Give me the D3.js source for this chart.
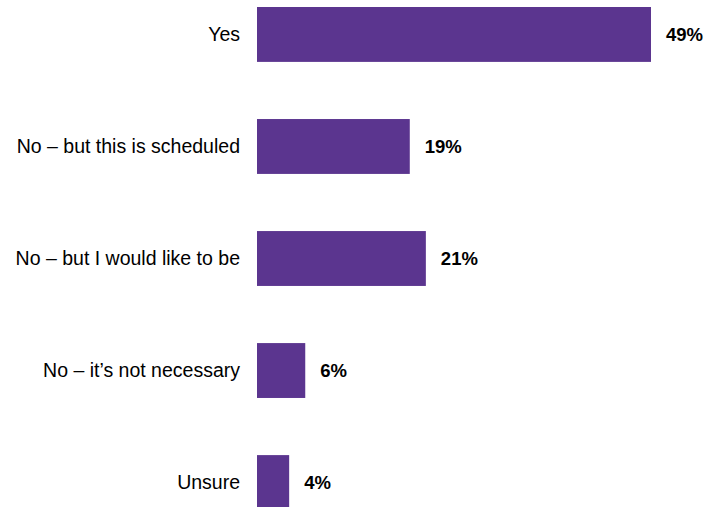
<!DOCTYPE html>
<html><head><meta charset="utf-8">
<script src="https://cdn.jsdelivr.net/npm/d3@7"></script>
<style>html,body{margin:0;padding:0;background:#fff;}svg{display:block;}</style>
</head><body>
<script>
const categories = ["Yes", "No \u2013 but this is scheduled", "No \u2013 but I would like to be", "No \u2013 it\u2019s not necessary", "Unsure"];
const values = [49, 19, 21, 6, 4];
const valueLabels = ["49%", "19%", "21%", "6%", "4%"];

const W = 705, H = 507;
const svg = d3.select("body").append("svg").attr("width", W).attr("height", H);

const x = d3.scaleLinear().domain([0, 49]).range([257, 651]);
const y = d3.scaleBand().domain(categories).range([-21, 538]).paddingInner(0.51).paddingOuter(0.25);

svg.selectAll("rect.bar").data(categories).enter().append("rect")
  .attr("class", "bar")
  .attr("x", x(0))
  .attr("y", d => y(d))
  .attr("width", (d, i) => x(values[i]) - x(0))
  .attr("height", y.bandwidth())
  .attr("fill", "#5b358f");

const axis = d3.axisLeft(y).tickSize(0).tickPadding(17);
const g = svg.append("g").attr("transform", `translate(${x(0)},0)`).call(axis);
g.select(".domain").remove();
g.selectAll("text").attr("font-family", "Liberation Sans, Arial, sans-serif").attr("font-size", "19.5px").attr("fill", "#000");

svg.selectAll("text.val").data(categories).enter().append("text")
  .attr("class", "val")
  .attr("x", (d, i) => x(values[i]) + 15)
  .attr("y", d => y(d) + y.bandwidth() / 2)
  .attr("dy", "0.35em")
  .attr("font-family", "Liberation Sans, Arial, sans-serif")
  .attr("font-weight", "bold")
  .attr("font-size", "18.5px")
  .attr("fill", "#000")
  .text((d, i) => valueLabels[i]);
</script>
</body></html>
